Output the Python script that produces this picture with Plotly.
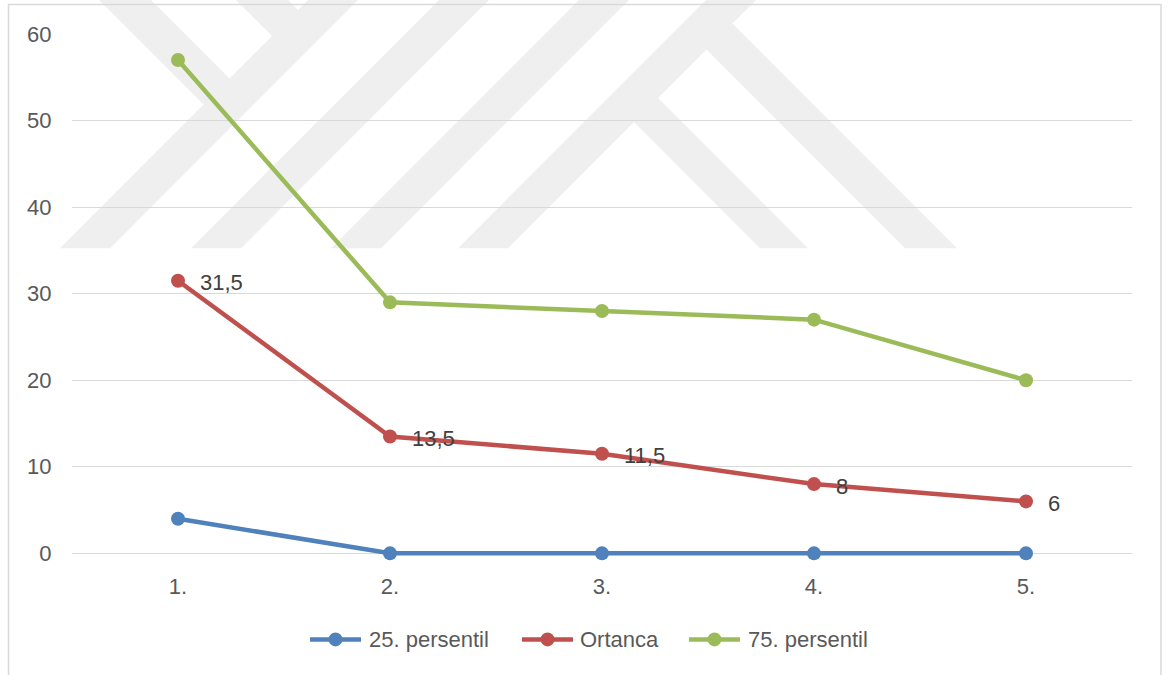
import plotly.graph_objects as go

# Categories and series
categories = ["1.", "2.", "3.", "4.", "5."]
p25 = [4, 0, 0, 0, 0]
ortanca = [31.5, 13.5, 11.5, 8, 6]
p75 = [57, 29, 28, 27, 20]

series_names = ["25. persentil", "Ortanca", "75. persentil"]
series_colors = ["#4f81bd", "#c0504d", "#9bbb59"]

W, H = 1171, 675
Y_MIN, Y_MAX = -1, 60
ZERO_PX, TOP_PX = 553, 34          # pixel rows of the 0 and 60 gridlines
UNIT = (ZERO_PX - TOP_PX) / Y_MAX
L, R, T = 72, 39, TOP_PX
B = H - (ZERO_PX - Y_MIN * UNIT)   # a little room below zero so the flat line is not clipped
PW, PH = W - L - R, H - T - B

FONT = "Liberation Sans, Arial, sans-serif"
FS = 22
TICK_COLOR = "#595959"
LABEL_COLOR = "#404040"
GRID = "#d9d9d9"
LINE_W = 4.5
MARKER = 14


def px(x):
    return (x - L) / PW


def py(y):
    return (H - B - y) / PH


def poly(points):
    return "M " + " L ".join(f"{px(x):.5f},{py(y):.5f}" for x, y in points) + " Z"


fig = go.Figure()
for name, vals, col in zip(series_names, [p25, ortanca, p75], series_colors):
    fig.add_trace(go.Scatter(
        x=categories, y=vals, name=name, mode="lines+markers",
        line=dict(color=col, width=LINE_W),
        marker=dict(color=col, size=MARKER),
        cliponaxis=False, showlegend=False,
    ))


def fmt(v):
    return f"{v:g}".replace(".", ",")


# Value labels on the median series (category index used as x position)
annotations = []
for i, v in enumerate(ortanca):
    annotations.append(dict(
        x=i, y=v, xref="x", yref="y", text=fmt(v), showarrow=False,
        xanchor="left", yanchor="middle", xshift=20, yshift=-2,
        font=dict(family=FONT, size=FS, color=LABEL_COLOR),
    ))

# Background emblem: diagonal bands
BASE = 248
BW = 50
band_fill = "#efefef"
shapes = []
slash_bottoms = [60, 191, 331, 458]
for a in slash_bottoms:
    shapes.append(dict(
        type="path", xref="paper", yref="paper", layer="below",
        path=poly([(a, BASE), (a + BW, BASE), (a + BW + BASE + 6, -6), (a + BASE + 6, -6)]),
        fillcolor=band_fill, line=dict(width=0),
    ))


def back_band(e_left, e_right, slash_c, y_start):
    k = slash_c + BASE
    end_l = ((k + e_left) / 2, (k - e_left) / 2)
    end_r = ((k + e_right) / 2, (k - e_right) / 2)
    pts = [(e_left + y_start, y_start), (e_right + y_start, y_start), end_r, end_l]
    return dict(
        type="path", xref="paper", yref="paper", layer="below",
        path=poly(pts), fillcolor=band_fill, line=dict(width=0),
    )


c1 = slash_bottoms[0] + BW / 2
c4 = slash_bottoms[3] + BW / 2
shapes.append(back_band(99, 151, c1, -6))
shapes.append(back_band(236, 288, c1, -6))
shapes.append(back_band(512, 560, c4, BASE))
shapes.append(back_band(657, 709, c4, BASE))

# Outer chart border
shapes.append(dict(
    type="rect", xref="paper", yref="paper", layer="below",
    x0=px(8.5), x1=px(1161), y0=py(690), y1=py(4.5),
    line=dict(color=GRID, width=1.5), fillcolor="rgba(0,0,0,0)",
))

# Legend row: line sample, marker and series name
LEG_Y = 639
leg_line_x = [310, 522, 689]
leg_text_x = [368, 579, 747]
LEG_LEN = 51
for name, col, lx, tx in zip(series_names, series_colors, leg_line_x, leg_text_x):
    shapes.append(dict(
        type="line", xref="paper", yref="paper",
        x0=px(lx), x1=px(lx + LEG_LEN), y0=py(LEG_Y), y1=py(LEG_Y),
        line=dict(color=col, width=LINE_W),
    ))
    cx = lx + LEG_LEN / 2
    r = MARKER / 2
    shapes.append(dict(
        type="circle", xref="paper", yref="paper",
        x0=px(cx - r), x1=px(cx + r), y0=py(LEG_Y + r), y1=py(LEG_Y - r),
        fillcolor=col, line=dict(width=0),
    ))
    annotations.append(dict(
        x=px(tx), y=py(LEG_Y), xref="paper", yref="paper", text=name,
        showarrow=False, xanchor="left", yanchor="middle", xshift=-1,
        font=dict(family=FONT, size=FS, color=TICK_COLOR),
    ))

fig.update_layout(
    width=W, height=H, autosize=False,
    margin=dict(l=L, r=R, t=T, b=B, pad=0),
    paper_bgcolor="white", plot_bgcolor="rgba(0,0,0,0)",
    font=dict(family=FONT, size=FS, color=TICK_COLOR),
    showlegend=False,
    xaxis=dict(
        type="category", range=[-0.5, 4.5], showgrid=False, zeroline=False,
        showline=False, ticks="outside", ticklen=14 - round(-Y_MIN * UNIT),
        tickcolor="rgba(0,0,0,0)",
        tickfont=dict(family=FONT, size=FS, color=TICK_COLOR), automargin=False,
        fixedrange=True,
    ),
    yaxis=dict(
        range=[Y_MIN, Y_MAX], dtick=10, tick0=0, showgrid=True, gridcolor=GRID, gridwidth=1,
        zeroline=True, zerolinecolor=GRID, zerolinewidth=1, showline=False,
        ticks="outside", ticklen=15, tickcolor="rgba(0,0,0,0)",
        tickfont=dict(family=FONT, size=FS, color=TICK_COLOR), automargin=False,
        fixedrange=True,
    ),
    annotations=annotations,
    shapes=shapes,
)

fig.write_html("out.html")
